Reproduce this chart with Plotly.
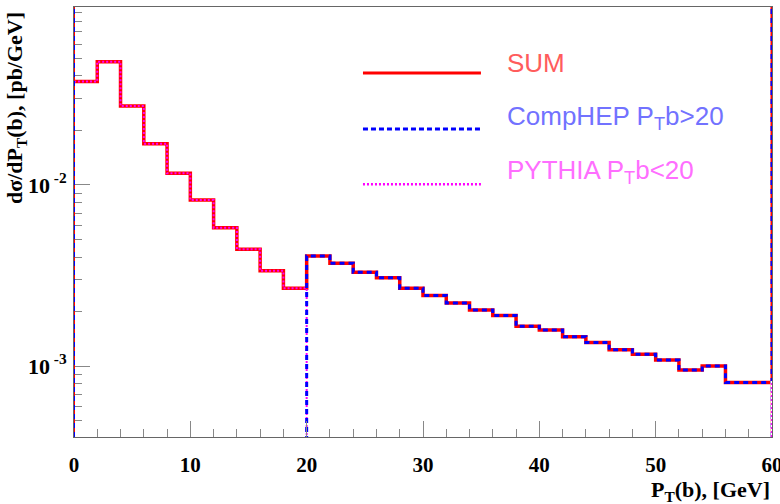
import plotly.graph_objects as go

# ---- data ----
bin_edges = [0, 2, 4, 6, 8, 10, 12, 14, 16, 18, 20, 22, 24, 26, 28, 30,
             32, 34, 36, 38, 40, 42, 44, 46, 48, 50, 52, 54, 56, 58, 60]
sum_vals = [0.0373, 0.0480, 0.0273, 0.0169, 0.0116, 0.00826, 0.00581, 0.00442, 0.00336, 0.00269,
            0.00405, 0.00369, 0.00330, 0.00307, 0.00269, 0.00245, 0.00223, 0.00204, 0.00190, 0.00166,
            0.00158, 0.00145, 0.00135, 0.00123, 0.00116, 0.00108, 0.00095, 0.00100, 0.00081, 0.00081]
comphep_vals = [0, 0, 0, 0, 0, 0, 0, 0, 0, 0,
                0.00405, 0.00369, 0.00330, 0.00307, 0.00269, 0.00245, 0.00223, 0.00204, 0.00190, 0.00166,
                0.00158, 0.00145, 0.00135, 0.00123, 0.00116, 0.00108, 0.00095, 0.00100, 0.00081, 0.00081]
pythia_vals = [0.0373, 0.0480, 0.0273, 0.0169, 0.0116, 0.00826, 0.00581, 0.00442, 0.00336, 0.00269,
               0, 0, 0, 0, 0, 0, 0, 0, 0, 0,
               0, 0, 0, 0, 0, 0, 0, 0, 0, 0]
x_ticks = [0, 10, 20, 30, 40, 50, 60]
y_ticks = [1e-3, 1e-2]
y_ticktext = ["10<sup> -3</sup>", "10<sup> -2</sup>"]
legend_names = ["SUM", "CompHEP P<sub>T</sub>b&gt;20", "PYTHIA P<sub>T</sub>b&lt;20"]

FLOOR = 1e-7  # empty bins drawn below the axis (log scale)


def step_y(vals):
    v = [x if x > 0 else FLOOR for x in vals]
    return v + [v[-1]]


RED = "#ff0000"
BLUE = "#0000ff"
MAG = "#ff00ff"
serif = "Liberation Serif"

fig = go.Figure()
fig.add_trace(go.Scatter(x=bin_edges, y=step_y(sum_vals), mode="lines", line_shape="hv",
                         line=dict(color=RED, width=3.5), showlegend=False))
fig.add_trace(go.Scatter(x=bin_edges, y=step_y(pythia_vals), mode="lines", line_shape="hv",
                         line=dict(color=MAG, width=2, dash="2px,2px"), showlegend=False))
fig.add_trace(go.Scatter(x=bin_edges, y=step_y(comphep_vals), mode="lines", line_shape="hv",
                         line=dict(color=BLUE, width=3, dash="5px,4px"), showlegend=False))

shapes = []
# edge lines at x=0 and x=60 (histogram borders)
shapes.append(dict(type="line", xref="x", yref="paper", x0=bin_edges[0], x1=bin_edges[0], y0=0, y1=1,
                   line=dict(color=RED, width=2)))
shapes.append(dict(type="line", xref="x", yref="paper", x0=bin_edges[0], x1=bin_edges[0], y0=0, y1=1,
                   line=dict(color=BLUE, width=2, dash="5px,4px")))
shapes.append(dict(type="line", xref="x", yref="paper", x0=bin_edges[-1], x1=bin_edges[-1], y0=0, y1=1,
                   line=dict(color=RED, width=3)))
shapes.append(dict(type="line", xref="x", yref="paper", x0=bin_edges[-1], x1=bin_edges[-1], y0=0, y1=1,
                   line=dict(color=BLUE, width=3, dash="5px,4px")))
shapes.append(dict(type="line", xref="x", yref="paper", x0=bin_edges[-1], x1=bin_edges[-1], y0=0, y1=0.13,
                   line=dict(color="white", width=3)))
shapes.append(dict(type="line", xref="x", yref="paper", x0=bin_edges[-1], x1=bin_edges[-1], y0=0, y1=0.13,
                   line=dict(color=MAG, width=2, dash="2px,2px")))

# legend (drawn manually)
leg_y_line = [0.8465, 0.716, 0.588]
leg_y_text = [0.870, 0.743, 0.618]
leg_colors = [RED, BLUE, MAG]
leg_dash = ["solid", "5px,3px", "2px,2px"]
leg_width = [3, 3, 2.5]
text_colors = ["#ff5c5c", "#7272ff", "#ff6eff"]
annotations = []
for i in range(3):
    shapes.append(dict(type="line", xref="paper", yref="paper", x0=0.414, x1=0.583,
                       y0=leg_y_line[i], y1=leg_y_line[i],
                       line=dict(color=leg_colors[i], width=leg_width[i], dash=leg_dash[i])))
    annotations.append(dict(text=legend_names[i], xref="paper", yref="paper", x=0.617, y=leg_y_text[i],
                            xanchor="left", yanchor="middle", showarrow=False,
                            font=dict(family="Liberation Sans", size=26,
                                      color=text_colors[i])))

annotations.append(dict(text="P<sub>T</sub>(b), [GeV]", xref="paper", yref="paper", x=1.0, y=-0.126,
                        xanchor="right", yanchor="middle", showarrow=False,
                        font=dict(family=serif, size=22, color="black", weight="bold")))
annotations.append(dict(text="dσ/dP<sub>T</sub>(b), [pb/GeV]", xref="paper", yref="paper",
                        x=-0.083, y=0.993, xanchor="center", yanchor="top", textangle=-90,
                        showarrow=False,
                        font=dict(family=serif, size=22, color="black", weight="bold")))

fig.update_layout(
    width=780, height=504,
    margin=dict(l=74, r=8, t=7, b=67),
    paper_bgcolor="white", plot_bgcolor="white",
    shapes=shapes, annotations=annotations,
    showlegend=False,
    xaxis=dict(range=[0, 60], tickvals=x_ticks, ticks="inside", ticklen=16, tickcolor="#888",
               tickwidth=1, showgrid=False, zeroline=False, showline=True, linecolor="#666",
               linewidth=1, mirror=True, ticklabelstandoff=9, ticklabeloverflow="allow",
               automargin=False,
               tickfont=dict(family=serif, size=21, color="black", weight="bold"),
               minor=dict(ticks="inside", ticklen=8, dtick=2, tickcolor="#888", showgrid=False)),
    yaxis=dict(type="log", range=[-3.392, -1.017], tickvals=y_ticks, ticktext=y_ticktext,
               ticks="inside", ticklen=16, tickcolor="#888", tickwidth=1,
               showgrid=False, zeroline=False, showline=True, linecolor="#666", linewidth=1,
               mirror=True, ticklabelstandoff=2, automargin=False,
               tickfont=dict(family=serif, size=22, color="black", weight="bold"),
               minor=dict(ticks="inside", ticklen=8, dtick="D1", tickcolor="#888", showgrid=False)),
)

fig.write_html("out.html")
